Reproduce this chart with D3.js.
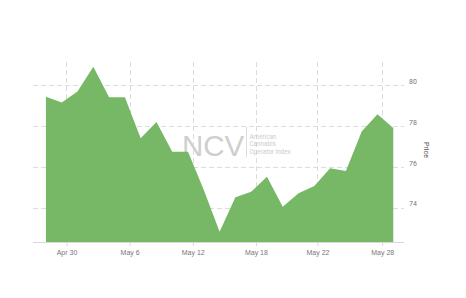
<!DOCTYPE html>
<html>
<head>
<meta charset="utf-8">
<script src="https://cdn.jsdelivr.net/npm/d3@7/dist/d3.min.js"></script>
<style>
  body { margin: 0; background: #fff; }
  svg { display: block; font-family: Roboto, "Open Sans", sans-serif; }
</style>
</head>
<body>
<svg id="chart" width="466" height="298"></svg>
<script>
// price per trading day
var prices = [79.45, 79.16, 79.70, 80.92, 79.42, 79.42, 77.41, 78.21, 76.75, 76.75,
              74.88, 72.83, 74.52, 74.79, 75.53, 74.06, 74.72, 75.07, 75.94, 75.81,
              77.74, 78.59, 77.92];
var tickLabels = ["Apr 30", "May 6", "May 12", "May 18", "May 22", "May 28"];
var tickAt = [1.3, 5.3, 9.3, 13.3, 17.2, 21.3];
var yTicks = [74, 76, 78, 80];
var logoLines = ["American", "Cannabis", "Operator Index"];

var svg = d3.select("#chart");
var plot = { left: 33, right: 404, top: 62, bottom: 242 };

var x = d3.scaleLinear().domain([-0.82, 22.68]).range([plot.left, plot.right]);
var y = d3.scaleLinear().domain([72.33, 81.15]).range([plot.bottom, plot.top]);

// grid
var grid = svg.append("g").attr("stroke", "#dcdcdc").attr("stroke-dasharray", "5,3").attr("stroke-width", 1);
grid.selectAll("line.h").data(yTicks).enter().append("line")
    .attr("x1", plot.left).attr("x2", plot.right)
    .attr("y1", d => Math.round(y(d)) + 0.5).attr("y2", d => Math.round(y(d)) + 0.5);
grid.selectAll("line.v").data(tickAt).enter().append("line")
    .attr("y1", plot.top).attr("y2", plot.bottom)
    .attr("x1", d => Math.round(x(d)) + 0.5).attr("x2", d => Math.round(x(d)) + 0.5);

// watermark
var wm = svg.append("g");
wm.append("text").attr("x", 182).attr("y", 155.5)
    .attr("font-size", 29.5).attr("fill", "#cfcfcf").attr("font-family", "Liberation Sans, Arial, sans-serif")
    .text("NCV");
wm.append("line").attr("x1", 246.5).attr("x2", 246.5).attr("y1", 127).attr("y2", 157)
    .attr("stroke", "#dcdcdc").attr("stroke-width", 1);
wm.selectAll("text.sub").data(logoLines).enter().append("text")
    .attr("x", 249.5).attr("y", (d, i) => 138.8 + i * 7.6)
    .attr("font-size", 6.3).attr("fill", "#cdcdcd")
    .text(d => d);

// area
var area = d3.area()
    .x((d, i) => x(i))
    .y0(plot.bottom)
    .y1(d => y(d));
svg.append("path").datum(prices)
    .attr("d", area)
    .attr("fill", "#76b865");

// x axis
var xAxis = d3.axisBottom(x).tickValues(tickAt)
    .tickFormat((d, i) => tickLabels[i]).tickSize(4).tickPadding(4);
var gx = svg.append("g").attr("transform", "translate(0," + plot.bottom + ")").call(xAxis);
gx.select(".domain").attr("d", "M" + plot.left + ",0.5H" + plot.right).attr("stroke", "#d8d8d8");
gx.selectAll(".tick line").attr("stroke", "#d8d8d8");
gx.selectAll(".tick text").attr("fill", "#777").attr("font-size", 7);

// y axis labels on the right
var gy = svg.append("g");
gy.selectAll("text").data(yTicks).enter().append("text")
    .attr("x", 409).attr("y", d => y(d) - 1.5)
    .attr("font-size", 7).attr("fill", "#777")
    .text(d => d);

svg.append("text")
    .attr("transform", "translate(424,150) rotate(90)")
    .attr("text-anchor", "middle")
    .attr("font-size", 7).attr("fill", "#555")
    .text("Price");
</script>
</body>
</html>
